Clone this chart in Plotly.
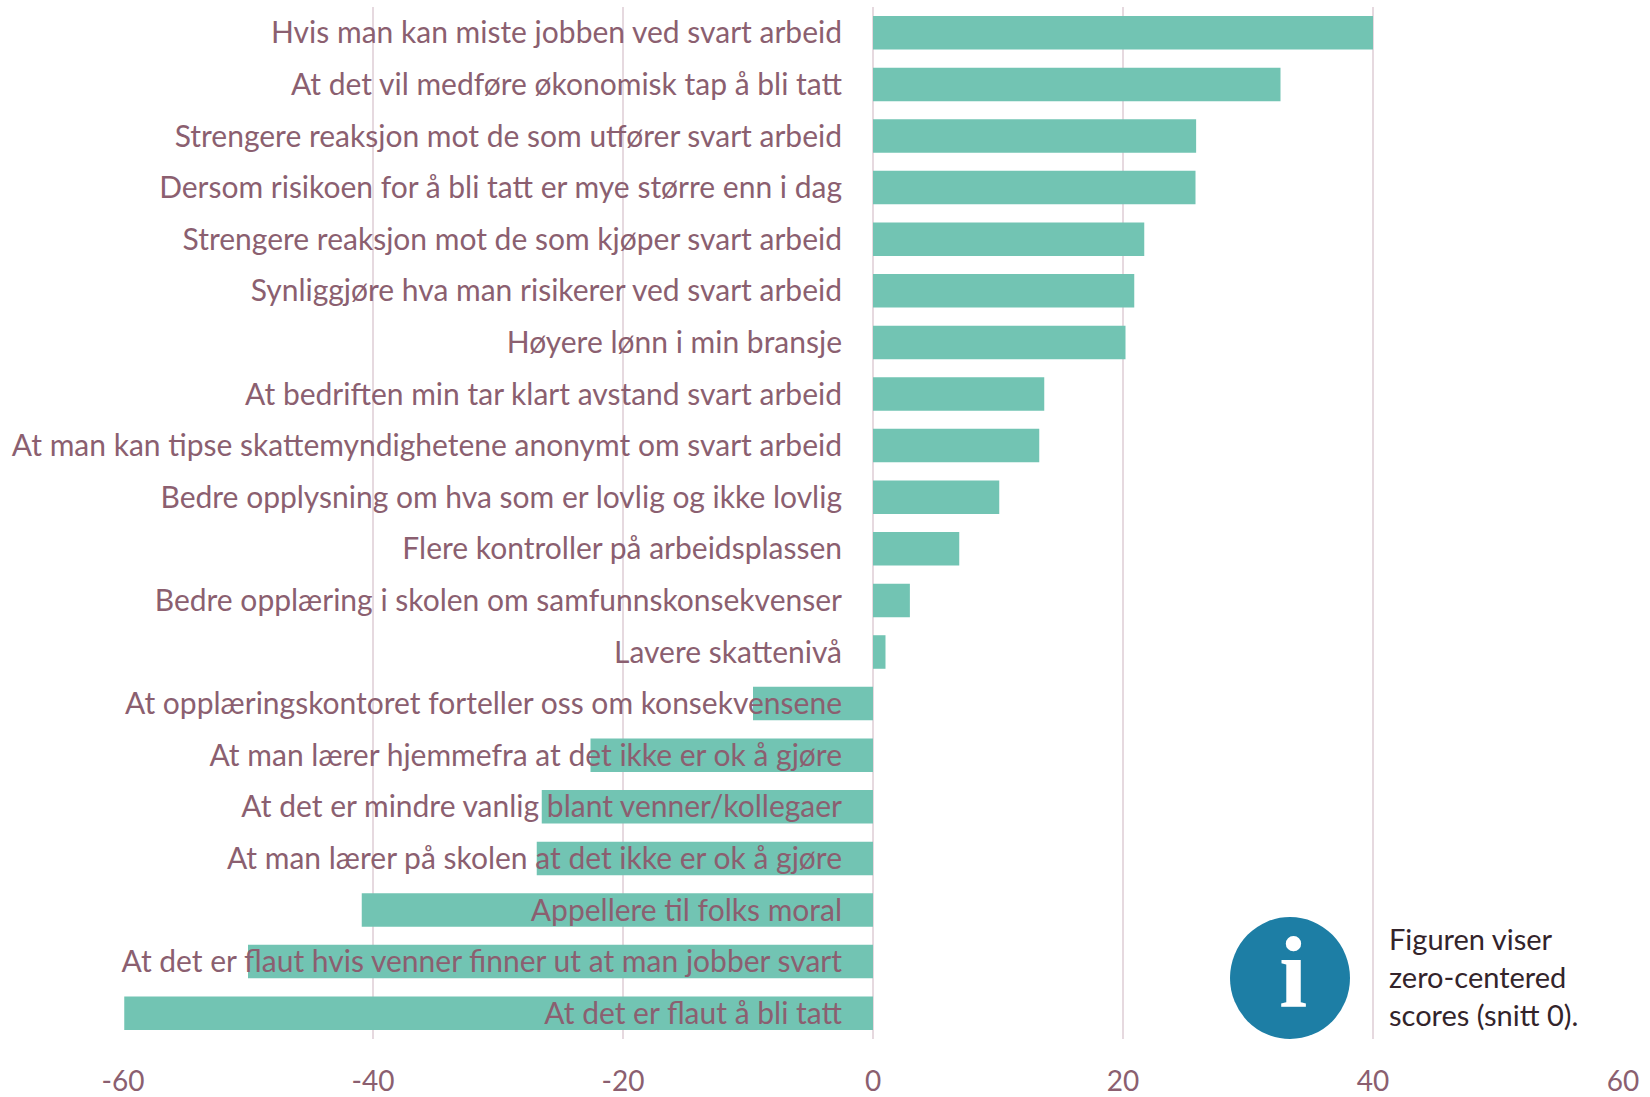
import plotly.graph_objects as go

categories = [
    "Hvis man kan miste jobben ved svart arbeid",
    "At det vil medføre økonomisk tap å bli tatt",
    "Strengere reaksjon mot de som utfører svart arbeid",
    "Dersom risikoen for å bli tatt er mye større enn i dag",
    "Strengere reaksjon mot de som kjøper svart arbeid",
    "Synliggjøre hva man risikerer ved svart arbeid",
    "Høyere lønn i min bransje",
    "At bedriften min tar klart avstand svart arbeid",
    "At man kan tipse skattemyndighetene anonymt om svart arbeid",
    "Bedre opplysning om hva som er lovlig og ikke lovlig",
    "Flere kontroller på arbeidsplassen",
    "Bedre opplæring i skolen om samfunnskonsekvenser",
    "Lavere skattenivå",
    "At opplæringskontoret forteller oss om konsekvensene",
    "At man lærer hjemmefra at det ikke er ok å gjøre",
    "At det er mindre vanlig blant venner/kollegaer",
    "At man lærer på skolen at det ikke er ok å gjøre",
    "Appellere til folks moral",
    "At det er flaut hvis venner finner ut at man jobber svart",
    "At det er flaut å bli tatt",
]
values = [40.0, 32.6, 25.85, 25.8, 21.7, 20.9, 20.2, 13.7, 13.3, 10.1,
          6.9, 2.95, 1.0, -9.6, -22.6, -26.5, -26.9, -40.9, -50.0, -59.9]
tick_values = [-60, -40, -20, 0, 20, 40, 60]
tick_labels = ["-60", "-40", "-20", "0", "20", "40", "60"]
note_lines = ["Figuren viser", "zero-centered", "scores (snitt 0)."]

W, H = 1650, 1097
L, R, T, B = 123, 27, 7, 58
PW, PH = W - L - R, H - T - B
px = lambda x: (x - L) / PW
py = lambda y: (H - B - y) / PH
LABEL = "#8B5F70"
FONT = "Lato"

fig = go.Figure(go.Bar(
    x=values, y=categories, orientation="h",
    marker=dict(color="#72C4B3", line=dict(width=0)),
))
fig.update_layout(
    width=W, height=H, margin=dict(l=L, r=R, t=T, b=B, pad=0, autoexpand=False),
    paper_bgcolor="white", plot_bgcolor="white", bargap=0.35,
    showlegend=False, font=dict(family=FONT, color=LABEL),
    xaxis=dict(range=[-60, 60], tickvals=tick_values, ticktext=tick_labels, showgrid=True,
               gridcolor="#E6D9DF", gridwidth=2, zeroline=False, showline=False, automargin=False,
               ticks="outside", ticklen=17, tickcolor="rgba(0,0,0,0)",
               tickfont=dict(size=28, color=LABEL, family=FONT)),
    yaxis=dict(categoryorder="array", categoryarray=categories[::-1], anchor="free", position=0.5,
               showgrid=False, zeroline=False, showline=False, automargin=False, ticks="outside",
               ticklen=25, tickcolor="rgba(0,0,0,0)",
               tickfont=dict(size=30, color=LABEL, family=FONT)),
)
fig.add_shape(type="circle", xref="paper", yref="paper", layer="above",
              x0=px(1230), x1=px(1350), y0=py(1039), y1=py(917),
              fillcolor="#1D7EA5", line=dict(width=0))
fig.add_annotation(text="<b>i</b>", xref="paper", yref="paper", x=px(1293), y=py(972),
                   xanchor="center", yanchor="middle", showarrow=False,
                   font=dict(family="Liberation Serif", size=102, color="white"))
for i, line in enumerate(note_lines):
    fig.add_annotation(text=line, xref="paper", yref="paper", x=px(1387), y=py(938 + i * 38),
                       xanchor="left", yanchor="middle", showarrow=False,
                       font=dict(family=FONT, size=29, color="#33242B"))
fig.write_html("out.html", config={"displayModeBar": False},
               post_script="document.body.style.margin='0';document.documentElement.style.overflow='hidden';")
